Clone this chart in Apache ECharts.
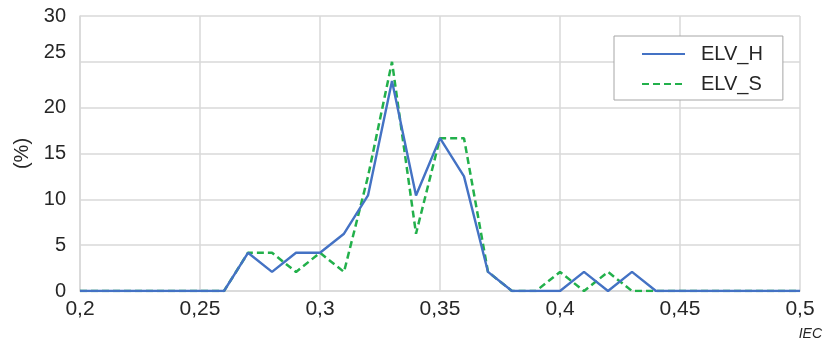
<!DOCTYPE html>
<html>
<head>
<meta charset="utf-8">
<script src="https://cdn.jsdelivr.net/npm/echarts@6/dist/echarts.min.js"></script>
<style>
  html, body { margin: 0; padding: 0; background: #fff; }
  #chart { width: 824px; height: 345px; }
</style>
</head>
<body>
<div id="chart"></div>
<script>
// IEC values, step 0.01
const iec = [0.20, 0.21, 0.22, 0.23, 0.24, 0.25, 0.26, 0.27, 0.28, 0.29, 0.30,
             0.31, 0.32, 0.33, 0.34, 0.35, 0.36, 0.37, 0.38, 0.39, 0.40,
             0.41, 0.42, 0.43, 0.44, 0.45, 0.46, 0.47, 0.48, 0.49, 0.50];

// Share of samples (%) per IEC class
const elvH = [0, 0, 0, 0, 0, 0, 0, 4.17, 2.08, 4.17, 4.17,
              6.25, 10.42, 22.92, 10.42, 16.67, 12.5, 2.08, 0, 0, 0,
              2.08, 0, 2.08, 0, 0, 0, 0, 0, 0, 0];
const elvS = [0, 0, 0, 0, 0, 0, 0, 4.17, 4.17, 2.08, 4.17,
              2.08, 12.5, 25, 6.25, 16.67, 16.67, 2.08, 0, 0, 2.08,
              0, 2.08, 0, 0, 0, 0, 0, 0, 0, 0];

const seriesNames = ['ELV_H', 'ELV_S'];
const xTicks = { min: 0.2, max: 0.5, step: 0.05 };
const yTicks = { min: 0, max: 30, step: 5 };

const pairs = vals => iec.map((x, i) => [x, vals[i]]);
const gridColor = '#d9d9d9';
const textColor = '#262626';
const fontFamily = '"Liberation Sans", Arial, sans-serif';

const chart = echarts.init(document.getElementById('chart'), null, { renderer: 'canvas' });
chart.setOption({
  animation: false,
  backgroundColor: '#ffffff',
  grid: { left: 80, right: 24, top: 16, bottom: 54, containLabel: false },
  xAxis: {
    type: 'value',
    min: xTicks.min, max: xTicks.max, interval: xTicks.step,
    axisLine: { show: true, lineStyle: { color: gridColor, width: 1.5 } },
    axisTick: { show: false },
    splitLine: { show: true, lineStyle: { color: gridColor, width: 1.5 } },
    axisLabel: {
      color: textColor, fontSize: 21, fontFamily, margin: 8,
      formatter: v => String(+v.toFixed(2)).replace('.', ',')
    }
  },
  yAxis: {
    type: 'value',
    min: yTicks.min, max: yTicks.max, interval: yTicks.step,
    name: '(%)', nameLocation: 'middle', nameGap: 43,
    nameTextStyle: { color: textColor, fontSize: 20, fontFamily },
    axisLine: { show: true, lineStyle: { color: gridColor, width: 1.5 } },
    axisTick: { show: false },
    splitLine: { show: true, lineStyle: { color: gridColor, width: 1.5 } },
    axisLabel: {
      color: textColor, fontSize: 20, fontFamily, margin: 14,
      formatter: v => v === 25 ? '{up|25}' : String(v),
      rich: { up: { fontSize: 20, fontFamily, color: textColor, padding: [0, 0, 18, 0] } }
    }
  },
  legend: {
    orient: 'vertical',
    left: 614, top: 36,
    padding: [8, 20, 6, 27],
    itemWidth: 43, itemHeight: 14, itemGap: 10,
    borderColor: '#a6a6a6', borderWidth: 1,
    backgroundColor: '#ffffff',
    itemStyle: { opacity: 0 },
    textStyle: { color: textColor, fontSize: 20, fontFamily, padding: [0, 0, 0, 11] },
    data: seriesNames
  },
  series: [
    {
      name: seriesNames[0], type: 'line', data: pairs(elvH),
      symbol: 'none', z: 3,
      lineStyle: { color: '#4472c4', width: 2.4 },
      itemStyle: { color: '#4472c4' }
    },
    {
      name: seriesNames[1], type: 'line', data: pairs(elvS),
      symbol: 'none', z: 2,
      lineStyle: { color: '#22b04b', width: 2.5, type: [7, 4] },
      itemStyle: { color: '#22b04b' }
    }
  ],
  graphic: [{
    type: 'text', right: 2, top: 327,
    style: { text: 'IEC', fill: textColor, font: 'italic 14px ' + fontFamily }
  }]
});
</script>
</body>
</html>
